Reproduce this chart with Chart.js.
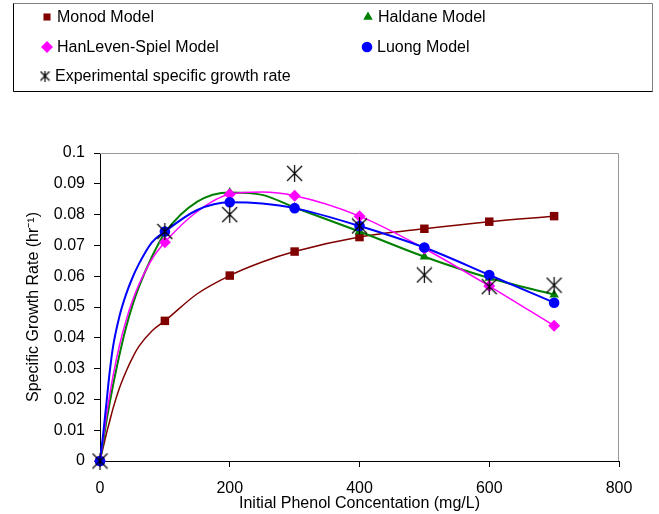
<!DOCTYPE html>
<html>
<head>
<meta charset="utf-8">
<script src="https://cdn.jsdelivr.net/npm/chart.js@4"></script>
<style>
  body { margin: 0; background: #fff; }
  canvas { display: block; }
</style>
</head>
<body>
<canvas id="growth_chart" width="659" height="514"></canvas>
<script>
// points with markers
const markerX = [0, 100, 200, 300, 400, 500, 600, 700];
const monod = [0, 0.0455, 0.0602, 0.068, 0.0727, 0.0754, 0.0777, 0.0795];
const haldane = [0, 0.074, 0.0872, 0.0823, 0.0745, 0.0663, 0.0594, 0.054];
const hanLeven = [0, 0.071, 0.0866, 0.0861, 0.0795, 0.069, 0.0568, 0.0439];
const luong = [0, 0.0745, 0.084, 0.0821, 0.0763, 0.0693, 0.0604, 0.0514];
const experimental = [0, 0.0745, 0.080, 0.0934, 0.0763, 0.0604, 0.0566, 0.0571];

// model curves
const curveX = [0, 5, 10, 15, 20, 30, 40, 50, 60, 80, 100, 150, 200, 250, 300, 400, 500, 600, 700];
const monodCurve = [0, 0.0045, 0.009, 0.013, 0.017, 0.0237, 0.029, 0.0335, 0.0372, 0.0422, 0.0455, 0.0543, 0.0602, 0.0646, 0.068, 0.0727, 0.0754, 0.0777, 0.0795];
const haldaneCurve = [0, 0.0065, 0.013, 0.019, 0.0245, 0.0345, 0.0433, 0.0505, 0.0565, 0.0663, 0.074, 0.0842, 0.0872, 0.0864, 0.0823, 0.0745, 0.0663, 0.0594, 0.054];
const hanLevenCurve = [0, 0.0075, 0.015, 0.0215, 0.0275, 0.0375, 0.0455, 0.052, 0.0573, 0.0655, 0.071, 0.081, 0.0866, 0.0873, 0.0861, 0.0795, 0.069, 0.0568, 0.0439];
const luongCurve = [0, 0.009, 0.019, 0.029, 0.037, 0.047, 0.054, 0.0595, 0.064, 0.071, 0.0745, 0.0815, 0.084, 0.0836, 0.0821, 0.0763, 0.0693, 0.0604, 0.0514];

const xTickLabels = ['0', '200', '400', '600', '800'];
const yTickLabels = ['0', '0.01', '0.02', '0.03', '0.04', '0.05', '0.06', '0.07', '0.08', '0.09', '0.1'];

Chart.defaults.font.family = '"Liberation Sans", Arial, sans-serif';
Chart.defaults.font.size = 16;
Chart.defaults.color = '#000';

function starMark(size) {
  const c = document.createElement('canvas');
  c.width = size; c.height = size;
  const g = c.getContext('2d');
  g.strokeStyle = '#000';
  g.lineWidth = 1.2;
  g.beginPath();
  g.moveTo(1, 1); g.lineTo(size - 1, size - 1);
  g.moveTo(size - 1, 1); g.lineTo(1, size - 1);
  g.moveTo(size / 2, 0); g.lineTo(size / 2, size);
  g.stroke();
  return c;
}
const bigStar = starMark(17);
const smallStar = starMark(11);

function pts(xs, ys) {
  return xs.map((x, i) => ({x: x, y: ys[i]}));
}

function markerSet(label, ys, color, style, radius) {
  return {
    label: label,
    data: pts(markerX, ys),
    showLine: false,
    pointStyle: style,
    pointRadius: radius,
    pointHoverRadius: radius,
    pointBackgroundColor: color,
    pointBorderColor: color,
    pointBorderWidth: 0,
    backgroundColor: color,
    borderColor: color,
    clip: false
  };
}

function curveSet(ys, color, width) {
  return {
    label: '',
    data: pts(curveX, ys),
    borderColor: color,
    borderWidth: width,
    pointRadius: 0,
    cubicInterpolationMode: 'monotone',
    fill: false
  };
}

const COLORS = {
  monod: '#800000',
  haldane: '#008000',
  hanLeven: '#FF00FF',
  luong: '#0000FF'
};

const datasets = [
  markerSet('Experimental specific growth rate', experimental, '#000', bigStar, 8),
  markerSet('Luong Model', luong, COLORS.luong, 'circle', 5.3),
  markerSet('HanLeven-Spiel Model', hanLeven, COLORS.hanLeven, 'rectRot', 6),
  markerSet('Haldane Model', haldane, COLORS.haldane, 'triangle', 5.5),
  markerSet('Monod Model', monod, COLORS.monod, 'rect', 6),
  curveSet(luongCurve, COLORS.luong, 2),
  curveSet(hanLevenCurve, COLORS.hanLeven, 1.5),
  curveSet(haldaneCurve, COLORS.haldane, 2),
  curveSet(monodCurve, COLORS.monod, 1.5)
];

// legend layout: [dataset index, x of marker, y of row]
const legendItems = [
  [4, 47, 17], [3, 368, 17],
  [2, 47, 47], [1, 367, 47],
  [0, 45, 76]
];

const boxLegend = {
  id: 'boxLegend',
  afterDraw(chart) {
    const ctx = chart.ctx;
    ctx.save();
    ctx.lineWidth = 1;
    ctx.strokeStyle = '#808080';
    ctx.beginPath();
    ctx.moveTo(13.5, 91.5); ctx.lineTo(13.5, 3.5); ctx.lineTo(652.5, 3.5); ctx.lineTo(652.5, 91.5);
    ctx.stroke();
    ctx.strokeStyle = '#000';
    ctx.beginPath();
    ctx.moveTo(13.5, 3.5); ctx.lineTo(13.5, 91.5); ctx.lineTo(652.5, 91.5);
    ctx.stroke();

    ctx.font = '16px "Liberation Sans", Arial, sans-serif';
    ctx.textBaseline = 'middle';
    ctx.textAlign = 'left';
    legendItems.forEach(([i, x, y]) => {
      const ds = chart.data.datasets[i];
      ctx.fillStyle = ds.pointBackgroundColor;
      ctx.strokeStyle = ds.pointBorderColor;
      let style = ds.pointStyle;
      let r = ds.pointRadius;
      if (style === bigStar) style = smallStar;
      if (style === 'rect') r = 5;
      if (style === 'circle') r = 5.3;
      Chart.helpers.drawPoint(ctx, {pointStyle: style, radius: r, rotation: 0, borderWidth: 0}, x, y);
      ctx.fillStyle = '#000';
      ctx.fillText(ds.label, x + 10, y + 1);
    });

    // grey frame on top and right of the plot
    const a = chart.chartArea;
    ctx.strokeStyle = '#999';
    ctx.beginPath();
    ctx.moveTo(a.left, a.top + 0.5);
    ctx.lineTo(a.right - 0.5, a.top + 0.5);
    ctx.lineTo(a.right - 0.5, a.bottom);
    ctx.stroke();
    ctx.restore();
  }
};

new Chart(document.getElementById('growth_chart'), {
  type: 'line',
  data: { datasets: datasets },
  plugins: [boxLegend],
  options: {
    responsive: false,
    animation: false,
    layout: { padding: { top: 153, right: 40, bottom: 0, left: 0 } },
    plugins: {
      legend: { display: false },
      tooltip: { enabled: false }
    },
    scales: {
      x: {
        type: 'linear',
        min: 0,
        max: 800,
        afterFit(scale) { scale.height = 53; },
        ticks: {
          stepSize: 200,
          padding: 12,
          maxRotation: 0,
          callback: (v, i) => xTickLabels[i]
        },
        grid: { drawOnChartArea: false, drawTicks: true, tickLength: 6, color: '#000' },
        border: { color: '#000', width: 1 },
        title: {
          display: true,
          text: 'Initial Phenol Concentation (mg/L)',
          padding: { top: 0, bottom: 1 }
        }
      },
      y: {
        type: 'linear',
        min: 0,
        max: 0.1,
        afterFit(scale) { scale.width = 100; },
        ticks: {
          stepSize: 0.01,
          padding: 9,
          callback: (v, i) => yTickLabels[i]
        },
        grid: { drawOnChartArea: false, drawTicks: true, tickLength: 6, color: '#000' },
        border: { color: '#000', width: 1 },
        title: {
          display: true,
          text: 'Specific Growth Rate (hr⁻¹)',
          padding: { top: 24, bottom: 0 }
        }
      }
    }
  }
});
</script>
</body>
</html>
